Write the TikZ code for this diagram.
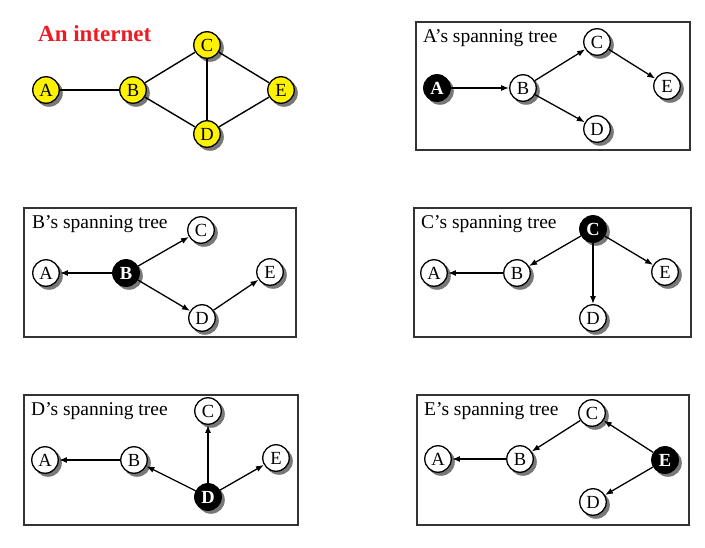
\documentclass[tikz,border=0pt]{standalone}
\usepackage{fontspec}
\setmainfont{Liberation Serif}
\usetikzlibrary{arrows.meta}
\definecolor{netred}{RGB}{237,28,36}
\definecolor{netyellow}{RGB}{255,242,0}
\definecolor{shadowgray}{RGB}{120,120,120}
\tikzset{
  rtr/.style={circle,draw=black,line width=1.3pt,minimum size=26.5pt,inner sep=0pt,
    font=\fontsize{18.5}{18.5}\selectfont},
  yel/.style={rtr,fill=netyellow},
  wht/.style={rtr,fill=white},
  blk/.style={rtr,fill=black,text=white,font=\fontsize{18.5}{18.5}\selectfont\bfseries},
  shd/.style={fill=shadowgray},
  frame/.style={draw=black!80,line width=1.2pt},
  ttl/.style={anchor=base west,inner sep=0pt,font=\fontsize{19.5}{20}\selectfont},
  link/.style={line width=1.4pt},
  arr/.style={line width=1.3pt,-{Latex[length=8pt,width=6pt]}}
}
\newcommand\router[4]{%
  \fill[shd] (#3) ++(3,3) circle (13.8pt);
  \node[#1] (#2) at (#3) {#4};}
\begin{document}
\begin{tikzpicture}[x=1pt,y=-1pt]
\useasboundingbox (0,0) rectangle (705,548);

% ---------- An internet ----------
\node[anchor=base west,inner sep=0pt,text=netred,font=\fontsize{23}{23}\selectfont\bfseries] (ttl0) at (38,42) {An internet};
\router{yel}{iA}{46,90}{A}
\router{yel}{iB}{133,90}{B}
\router{yel}{iC}{207,45}{C}
\router{yel}{iD}{207,134}{D}
\router{yel}{iE}{281,90}{E}
\draw[link] (iA) -- (iB);
\draw[link] (iB) -- (iC);
\draw[link] (iB) -- (iD);
\draw[link] (iC) -- (iD);
\draw[link] (iC) -- (iE);
\draw[link] (iD) -- (iE);

% ---------- A's spanning tree ----------
\draw[frame] (416,22) rectangle (690,150);
\node[ttl] (ttlA) at (423,43) {A’s spanning tree};
\router{blk}{aA}{437,88}{A}
\router{wht}{aB}{523,88}{B}
\router{wht}{aC}{597,42}{C}
\router{wht}{aD}{597,129}{D}
\router{wht}{aE}{667,86}{E}
\draw[arr] (aA) -- (aB);
\draw[arr] (aB) -- (aC);
\draw[arr] (aB) -- (aD);
\draw[arr] (aC) -- (aE);

% ---------- B's spanning tree ----------
\draw[frame] (24,208) rectangle (296,337);
\node[ttl] (ttlB) at (32,229) {B’s spanning tree};
\router{wht}{bA}{46,273}{A}
\router{blk}{bB}{126,273}{B}
\router{wht}{bC}{201,230}{C}
\router{wht}{bD}{202,318}{D}
\router{wht}{bE}{270,272}{E}
\draw[arr] (bB) -- (bA);
\draw[arr] (bB) -- (bC);
\draw[arr] (bB) -- (bD);
\draw[arr] (bD) -- (bE);

% ---------- C's spanning tree ----------
\draw[frame] (414,208) rectangle (691,337);
\node[ttl] (ttlC) at (421,229) {C’s spanning tree};
\router{blk}{cC}{593,229}{C}
\router{wht}{cA}{434,273}{A}
\router{wht}{cB}{517,273}{B}
\router{wht}{cD}{593,318}{D}
\router{wht}{cE}{665,272}{E}
\draw[arr] (cC) -- (cB);
\draw[arr] (cB) -- (cA);
\draw[arr] (cC) -- (cD);
\draw[arr] (cC) -- (cE);

% ---------- D's spanning tree ----------
\draw[frame] (24,395) rectangle (298,525);
\node[ttl] (ttlD) at (31,416) {D’s spanning tree};
\router{wht}{dA}{45,460}{A}
\router{wht}{dB}{134,460}{B}
\router{wht}{dC}{208,411}{C}
\router{blk}{dD}{208,497}{D}
\router{wht}{dE}{276,458}{E}
\draw[arr] (dD) -- (dB);
\draw[arr] (dB) -- (dA);
\draw[arr] (dD) -- (dC);
\draw[arr] (dD) -- (dE);

% ---------- E's spanning tree ----------
\draw[frame] (417,395) rectangle (689,525);
\node[ttl] (ttlE) at (424,416) {E’s spanning tree};
\router{wht}{eA}{438,459}{A}
\router{wht}{eB}{520,459}{B}
\router{wht}{eC}{592,413}{C}
\router{wht}{eD}{593,502}{D}
\router{blk}{eE}{665,460}{E}
\draw[arr] (eE) -- (eC);
\draw[arr] (eC) -- (eB);
\draw[arr] (eB) -- (eA);
\draw[arr] (eE) -- (eD);
\end{tikzpicture}
\end{document}
